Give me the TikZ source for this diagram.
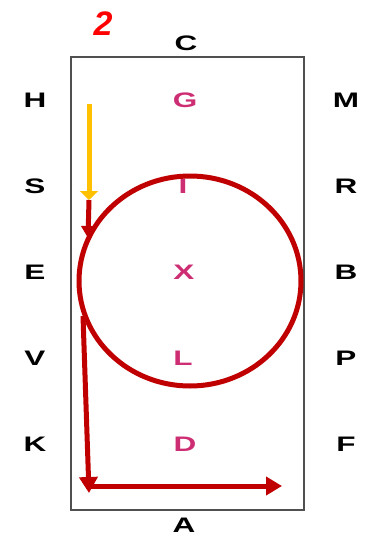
\documentclass[tikz,border=0pt]{standalone}
\usepackage{fontspec}
\setmainfont{Liberation Sans}
\usetikzlibrary{arrows.meta,shapes.geometric}
\definecolor{dred}{RGB}{192,0,0}
\definecolor{gold}{RGB}{255,192,0}
\definecolor{pinkl}{RGB}{205,45,115}
\definecolor{frame}{RGB}{80,80,80}
\newcommand\wide[1]{\scalebox{1.5}[1]{#1}}
\tikzset{
  side/.style={font=\fontsize{21}{21}\selectfont\bfseries, text=black, inner sep=0pt},
  mid/.style={font=\fontsize{21}{21}\selectfont\bfseries, text=pinkl, inner sep=0pt},
  redarrow/.style={draw=dred, line width=5pt, -{Triangle[length=16pt,width=18pt]}},
  goldarrow/.style={draw=gold, line width=5pt, -{Triangle[length=9pt,width=18pt]}},
}
\begin{document}
\begin{tikzpicture}[x=1pt,y=-1pt]
\useasboundingbox (0,0) rectangle (372,541);
% frame
\draw[frame, line width=2pt] (71,57) rectangle (304,510);
% labels
\node[font=\fontsize{34}{34}\selectfont\bfseries\itshape, text={rgb,255:red,255;green,0;blue,0}, inner sep=0pt] (two) at (103,24) {2};
\node[side] (C) at (186,43) {\wide{C}};
\node[side] (A) at (184,525) {\wide{A}};
\node[side] (H) at (35,100) {\wide{H}};
\node[side] (S) at (35,186) {\wide{S}};
\node[side] (E) at (35,272) {\wide{E}};
\node[side] (V) at (35,358) {\wide{V}};
\node[side] (K) at (35,444) {\wide{K}};
\node[side] (M) at (346,100) {\wide{M}};
\node[side] (R) at (346,186) {\wide{R}};
\node[side] (B) at (346,272) {\wide{B}};
\node[side] (P) at (346,358) {\wide{P}};
\node[side] (F) at (346,444) {\wide{F}};
\node[mid] (G) at (185,100) {\wide{G}};
\node[mid] (I) at (183,186) {\wide{I}};
\node[mid] (X) at (184,272) {\wide{X}};
\node[mid] (L) at (183,358) {\wide{L}};
\node[mid] (D) at (185,444) {\wide{D}};
% circle
\node[draw=dred, line width=5pt, ellipse, minimum width=222pt, minimum height=210pt, inner sep=0pt] (circ) at (190,281) {};
% arrows
\coordinate (g1) at (89,104);
\coordinate (g2) at (89,200);
\coordinate (r2) at (88,238);
\coordinate (s1) at (83,316);
\coordinate (s2) at (89,493);
\coordinate (h1) at (86,486);
\coordinate (h2) at (282,486);
\draw[goldarrow] (g1) -- (g2);
\draw[draw=dred, line width=5pt, -{Triangle[length=12pt,width=14pt]}] (g2) -- (r2);
\draw[redarrow] (s1) -- (s2);
\draw[redarrow] (h1) -- (h2);
\end{tikzpicture}
\end{document}
